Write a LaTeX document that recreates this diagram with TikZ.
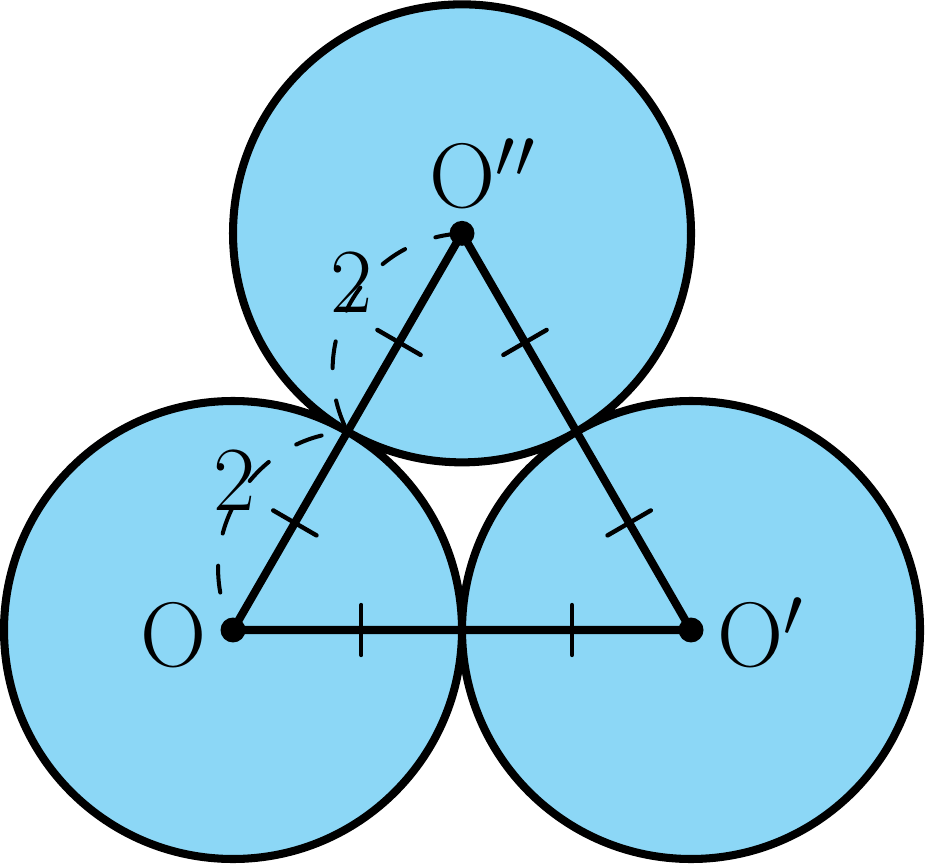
\documentclass[tikz,border=0pt]{standalone}
\usetikzlibrary{calc}
\definecolor{discblue}{RGB}{140,215,246}
\begin{document}
\begin{tikzpicture}[
  disc/.style={line width=2pt},
  side/.style={line width=2pt},
  tickmark/.style={line width=1.1pt, line cap=round},
  arcdash/.style={line width=1pt, line cap=round, dash pattern=on 6.7pt off 8.1pt},
  lab/.style={font=\fontsize{22.8}{27}\selectfont, inner sep=0pt},
  dot/.style={fill=black},
]
\useasboundingbox (-2.035,-2.035) rectangle (6.061,5.502);
\coordinate (O) at (0,0);
\coordinate (Op) at (4,0);
\coordinate (Opp) at (2,3.4641);
\coordinate (T) at (1,1.7321);
\fill[discblue] (O) circle (2) (Op) circle (2) (Opp) circle (2);
\draw[disc] (O) circle (2) (Op) circle (2) (Opp) circle (2);
\draw[arcdash] (Opp) to[bend right=57, looseness=1.1] (T) to[bend right=57, looseness=1.1] (O);
\draw[side] (O) -- (Op) -- (Opp) -- cycle;
\foreach \a/\b/\p in {O/Op/0.28, O/Op/0.74, Opp/Op/0.275, Opp/Op/0.73, O/Opp/0.27, O/Opp/0.725}
  \draw[tickmark] ($(\a)!\p!(\b)!0.218cm!90:(\b)$) -- ($(\a)!\p!(\b)!0.218cm!-90:(\b)$);
\fill[dot] (O) circle (0.109) (Op) circle (0.109) (Opp) circle (0.109);
\node[lab, anchor=base] (lO) at (-0.52,-0.323) {O};
\node[lab, anchor=base west] (lOp) at (4.227,-0.323) {O$'$};
\node[lab, anchor=base west] (lOpp) at (1.712,3.686) {O$''$};
\node[lab] (twoA) at (0.017,1.306) {2};
\node[lab] (twoB) at (1.035,3.035) {2};
\end{tikzpicture}
\end{document}
